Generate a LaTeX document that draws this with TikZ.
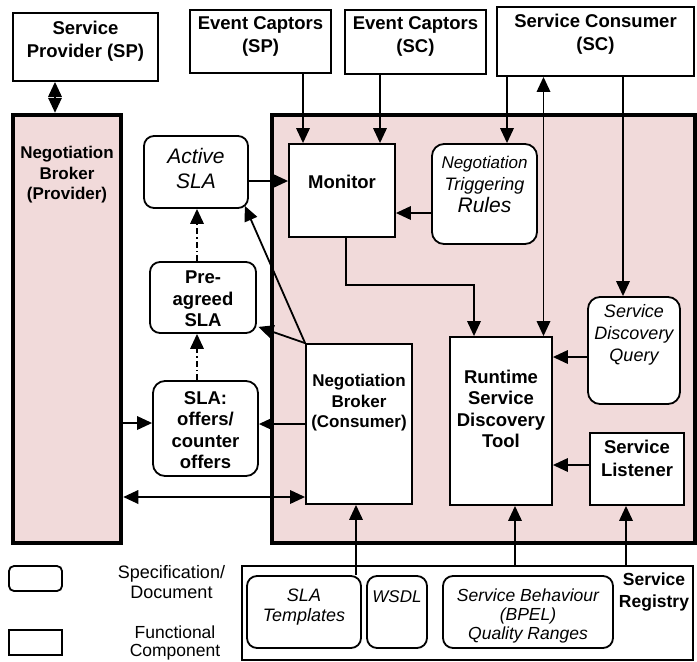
\documentclass[tikz,border=0pt]{standalone}
\usepackage{fontspec}
\setmainfont{Liberation Sans}
\usetikzlibrary{arrows.meta}
\definecolor{pinkbg}{RGB}{241,218,218}
\tikzset{
  fbox/.style={draw, line width=1.8pt, fill=white, inner sep=0pt},
  dbox/.style={fbox, rounded corners=10pt},
  pinkbox/.style={draw, line width=4.5pt, fill=pinkbg, inner sep=0pt},
  tb/.style={align=center, inner sep=0pt, font=\fontsize{18.5}{21.5}\selectfont\bfseries},
  tbs/.style={align=center, inner sep=0pt, font=\fontsize{17}{20.5}\selectfont\bfseries},
  ti/.style={align=center, inner sep=0pt, font=\fontsize{18}{22}\selectfont\itshape},
  tl/.style={align=center, inner sep=0pt, font=\fontsize{18}{20}\selectfont},
  arr/.style={line width=1.8pt, -{Triangle[length=15pt,width=13.5pt]}},
  dblarr/.style={line width=1.8pt, {Triangle[length=15pt,width=13.5pt]}-{Triangle[length=15pt,width=13.5pt]}},
  dd/.style={arr, dash pattern=on 6pt off 3pt on 1.5pt off 3pt},
}
\begin{document}
\begin{tikzpicture}[x=1pt,y=-1pt]
\useasboundingbox (0,0) rectangle (697,662);
% big pink areas
\node[pinkbox, minimum width=108pt, minimum height=428pt] (nbp) at (67,329) {};
\node[tbs] (nbpT) at (67,175) {Negotiation\\Broker\\(Provider)};
\node[pinkbox, minimum width=423pt, minimum height=428pt] (main) at (483.5,329) {};
% top boxes
\node[fbox, minimum width=145pt, minimum height=68pt] (sp) at (85.5,47) {};
\node[tb, font=\fontsize{18.5}{23}\selectfont\bfseries] (spT) at (85.5,41) {Service\\Provider (SP)};
\node[fbox, minimum width=141pt, minimum height=63pt] (ecsp) at (260.5,41.5) {};
\node[tb, font=\fontsize{18.5}{23}\selectfont\bfseries] (ecspT) at (260.5,36) {Event Captors\\(SP)};
\node[fbox, minimum width=141pt, minimum height=64pt] (ecsc) at (415.5,42) {};
\node[tb, font=\fontsize{18.5}{23}\selectfont\bfseries] (ecscT) at (415.5,36) {Event Captors\\(SC)};
\node[fbox, minimum width=197pt, minimum height=69pt] (scons) at (595.5,41.5) {};
\node[tb, font=\fontsize{18.5}{23}\selectfont\bfseries] (sconsT) at (595.5,34) {Service Consumer\\(SC)};
% inner boxes
\node[dbox, minimum width=104pt, minimum height=72pt] (asla) at (196,172) {};
\node[ti, font=\fontsize{21}{25}\selectfont\itshape] (aslaT) at (196,168) {Active\\SLA};
\node[fbox, minimum width=106pt, minimum height=93pt] (mon) at (342,190.5) {};
\node[tb] (monT) at (342,182) {Monitor};
\node[dbox, rounded corners=12pt, minimum width=105pt, minimum height=100pt] (ntr) at (484.5,194) {};
\node[ti] (ntrT) at (484.5,184) {\fontsize{17}{20}\selectfont Negotiation\\\fontsize{18}{21}\selectfont Triggering\\\fontsize{21}{23}\selectfont Rules};
\node[dbox, rounded corners=12pt, minimum width=92pt, minimum height=107pt] (sdq) at (634,350.5) {};
\node[ti] (sdqT) at (634,335) {Service\\Discovery\\Query};
\node[fbox, minimum width=102pt, minimum height=168pt] (rsd) at (501,421) {};
\node[tb] (rsdT) at (501,409) {Runtime\\Service\\Discovery\\Tool};
\node[fbox, minimum width=94pt, minimum height=72pt] (sl) at (637,469) {};
\node[tb, font=\fontsize{18.5}{23}\selectfont\bfseries] (slT) at (637,458) {Service\\Listener};
\node[fbox, minimum width=106pt, minimum height=160pt] (nbc) at (359,424) {};
\node[tbs] (nbcT) at (359,403) {Negotiation\\Broker\\(Consumer)};
\node[dbox, minimum width=106pt, minimum height=71pt] (pre) at (203,297.5) {};
\node[tb] (preT) at (203,299) {Pre-\\agreed\\SLA};
\node[dbox, rounded corners=12pt, minimum width=105pt, minimum height=95pt] (offers) at (205.5,428.5) {};
\node[tb] (offersT) at (205.5,430) {SLA:\\offers/\\counter\\offers};
% registry
\node[fbox, minimum width=451pt, minimum height=94pt] (reg) at (467.5,613) {};
\node[tb, font=\fontsize{17.5}{22}\selectfont\bfseries] (regT) at (654,592) {Service\\Registry};
\node[dbox, minimum width=114pt, minimum height=72pt] (slat) at (304,612) {};
\node[ti, font=\fontsize{18}{20}\selectfont\itshape] (slatT) at (304,607) {SLA\\Templates};
\node[dbox, minimum width=60pt, minimum height=72pt] (wsdl) at (397,612) {};
\node[ti, font=\fontsize{17}{19.5}\selectfont\itshape] (wsdlT) at (397,597) {WSDL};
\node[dbox, minimum width=170pt, minimum height=72pt] (sbeh) at (528,612) {};
\node[ti, font=\fontsize{17.5}{19}\selectfont\itshape] (sbehT) at (528,616) {Service Behaviour\\(BPEL)\\Quality Ranges};
% legend
\node[fbox, rounded corners=5pt, minimum width=53pt, minimum height=25pt] (leg1) at (35.5,578.5) {};
\node[tl] (leg1T) at (171.5,582) {Specification/\\Document};
\node[fbox, minimum width=53pt, minimum height=25pt] (leg2) at (35.5,642.5) {};
\node[tl, font=\fontsize{17.5}{18}\selectfont] (leg2T) at (175,643) {Functional\\Component};
% connectors
\coordinate (c1) at ([xshift=-30.5pt]sp.south);
\draw[dblarr] (c1) -- (c1 |- nbp.north);
\coordinate (c2) at ([xshift=42.5pt]ecsp.south);
\draw[arr] (c2) -- (c2 |- mon.north);
\coordinate (c3) at ([xshift=-35.5pt]ecsc.south);
\draw[arr] (c3) -- (c3 |- mon.north);
\coordinate (c4) at ([xshift=-88.5pt]scons.south);
\draw[arr] (c4) -- (c4 |- ntr.north);
\coordinate (c5) at ([xshift=-52pt]scons.south);
\draw[dblarr] (c5) -- (c5 |- rsd.north);
\coordinate (c6) at ([xshift=27.5pt]scons.south);
\draw[arr] (c6) -- (c6 |- sdq.north);
\coordinate (c7) at ([yshift=-19pt]ntr.west);
\draw[arr] (c7) -- (c7 -| mon.east);
\coordinate (c8) at ([xshift=4pt]mon.south);
\coordinate (c8b) at ([xshift=-27pt]rsd.north);
\draw[arr] (c8) -- ++(0,47) -| (c8b);
\coordinate (c9) at ([yshift=-6.5pt]sdq.west);
\draw[arr] (c9) -- (c9 -| rsd.east);
\coordinate (c10) at ([yshift=4pt]sl.west);
\draw[arr] (c10) -- (c10 -| rsd.east);
\coordinate (c11) at ([yshift=-9pt]asla.east);
\draw[arr] (c11) -- (c11 -| mon.west);
\coordinate (c12) at ([xshift=-6pt]pre.north);
\draw[dd] (c12) -- (c12 |- asla.south);
\coordinate (c13) at ([xshift=-8.5pt]offers.north);
\draw[dd] (c13) -- (c13 |- pre.south);
\draw[arr] (nbc.north west) -- ([xshift=-4pt,yshift=3pt]asla.south east);
\draw[arr] (nbc.north west) -- ([xshift=1.5pt,yshift=7pt]pre.south east);
\draw[arr] (nbc.west) -- (nbc.west -| offers.east);
\coordinate (c14) at ([yshift=-94pt]nbp.east);
\draw[arr] (c14) -- (c14 -| offers.west);
\coordinate (c15) at ([yshift=-73pt]nbc.west);
\draw[dblarr] (c15 -| nbp.east) -- (c15);
\coordinate (c16) at ([xshift=52pt]slat.north);
\draw[arr] (c16) -- (c16 |- nbc.south);
\coordinate (c17) at ([xshift=47.5pt]reg.north);
\draw[arr] (c17) -- (c17 |- rsd.south);
\coordinate (c18) at ([xshift=158.5pt]reg.north);
\draw[arr] (c18) -- (c18 |- sl.south);
\end{tikzpicture}
\end{document}
